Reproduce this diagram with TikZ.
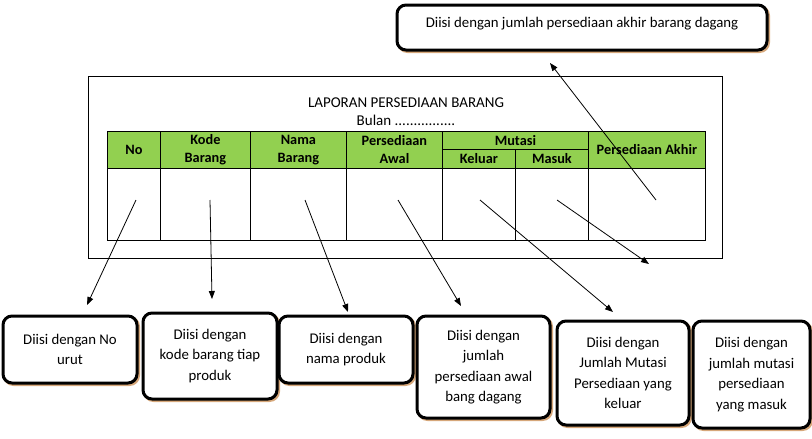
\documentclass[tikz,border=0pt]{standalone}
\usepackage{fontspec}
\setmainfont{Carlito}
\usetikzlibrary{arrows.meta,positioning,shadows}
\definecolor{hgreen}{RGB}{146,208,80}
\definecolor{shade}{RGB}{214,167,122}

\begin{document}
\begin{tikzpicture}[x=1pt, y=-1pt,
  note/.style={draw, line width=3pt, rounded corners=9pt, fill=white, align=center, inner sep=2pt,
    font=\fontsize{14.8}{20.5}\selectfont,
    drop shadow={shadow xshift=1.5pt, shadow yshift=-1.5pt, fill=shade, opacity=1, draw=shade, line width=3pt}},
  hcell/.style={draw, line width=0.8pt, fill=hgreen, anchor=north west, inner sep=0pt, align=center,
    font=\fontsize{14.3}{18}\selectfont\bfseries},
  bcell/.style={draw, line width=0.8pt, anchor=north west, inner sep=0pt, minimum height=72pt},
  pointer/.style={line width=0.8pt, -{Triangle[length=8pt, width=6pt]}}
]
\useasboundingbox (0,0) rectangle (812,439);

% report frame and title
\node[draw, line width=0.8pt, anchor=north west, inner sep=0pt, minimum width=634pt, minimum height=182pt] (frame) at (88,76) {};
\node[font=\fontsize{15}{17}\selectfont] (title) at (406,103) {LAPORAN PERSEDIAAN BARANG};
\node[font=\fontsize{15}{17}\selectfont] (bulan) at (406,120) {Bulan ................};

% table header
\node[hcell, minimum width=53pt, minimum height=37pt] (hno) at (107,131) {No};
\node[hcell, minimum width=90pt, minimum height=37pt] (hkode) at (160,131) {Kode\\Barang};
\node[hcell, minimum width=96pt, minimum height=37pt] (hnama) at (250,131) {Nama\\Barang};
\node[hcell, minimum width=96pt, minimum height=37pt] (hawal) at (346,131) {Persediaan\\Awal};
\node[hcell, minimum width=146pt, minimum height=18pt] (hmutasi) at (442,131) {Mutasi};
\node[hcell, minimum width=73pt, minimum height=19pt] (hkeluar) at (442,149) {Keluar};
\node[hcell, minimum width=73pt, minimum height=19pt] (hmasuk) at (515,149) {Masuk};
\node[hcell, minimum width=117pt, minimum height=37pt] (hakhir) at (588,131) {Persediaan Akhir};

% table body
\node[bcell, minimum width=53pt] (cno) at (107,168) {};
\node[bcell, minimum width=90pt] (ckode) at (160,168) {};
\node[bcell, minimum width=96pt] (cnama) at (250,168) {};
\node[bcell, minimum width=96pt] (cawal) at (346,168) {};
\node[bcell, minimum width=73pt] (ckeluar) at (442,168) {};
\node[bcell, minimum width=73pt] (cmasuk) at (515,168) {};
\node[bcell, minimum width=117pt] (cakhir) at (588,168) {};

% notes
\node[note, minimum width=370pt, minimum height=45pt, text depth=10pt] (nakhir) at (582,27.5) {Diisi dengan jumlah persediaan akhir barang dagang};
\node[note, minimum width=134pt, minimum height=67pt] (nno) at (70,349.5) {Diisi dengan No\\urut};
\node[note, minimum width=134pt, minimum height=86pt] (nkode) at (210,356) {Diisi dengan\\kode barang tiap\\produk};
\node[note, minimum width=134pt, minimum height=67pt] (nnama) at (346,349.5) {Diisi dengan\\nama produk};
\node[note, minimum width=133pt, minimum height=102pt] (nawal) at (483.5,367) {Diisi dengan\\jumlah\\persediaan awal\\bang dagang};
\node[note, minimum width=132pt, minimum height=104pt] (nkeluar) at (623,373) {Diisi dengan\\Jumlah Mutasi\\Persediaan yang\\keluar};
\node[note, minimum width=117pt, minimum height=107pt] (nmasuk) at (751.5,374.5) {Diisi dengan\\jumlah mutasi\\persediaan\\yang masuk};

% pointer ends
\coordinate (sno) at (136,200);
\coordinate (skode) at (210,200);
\coordinate (snama) at (305,200);
\coordinate (sawal) at (398,200);
\coordinate (skeluar) at (480,200);
\coordinate (smasuk) at (557,200);
\coordinate (sakhir) at (656,200);
\coordinate (tno) at (87,305);
\coordinate (tkode) at (212,299);
\coordinate (tnama) at (348,312);
\coordinate (tawal) at (461,306);
\coordinate (tkeluar) at (613,312);
\coordinate (tmasuk) at (649,264);
\coordinate (takhir) at (550,63);

\draw[pointer] (sno) -- (tno);
\draw[pointer] (skode) -- (tkode);
\draw[pointer] (snama) -- (tnama);
\draw[pointer] (sawal) -- (tawal);
\draw[pointer] (skeluar) -- (tkeluar);
\draw[pointer] (smasuk) -- (tmasuk);
\draw[pointer] (sakhir) -- (takhir);
\end{tikzpicture}
\end{document}
